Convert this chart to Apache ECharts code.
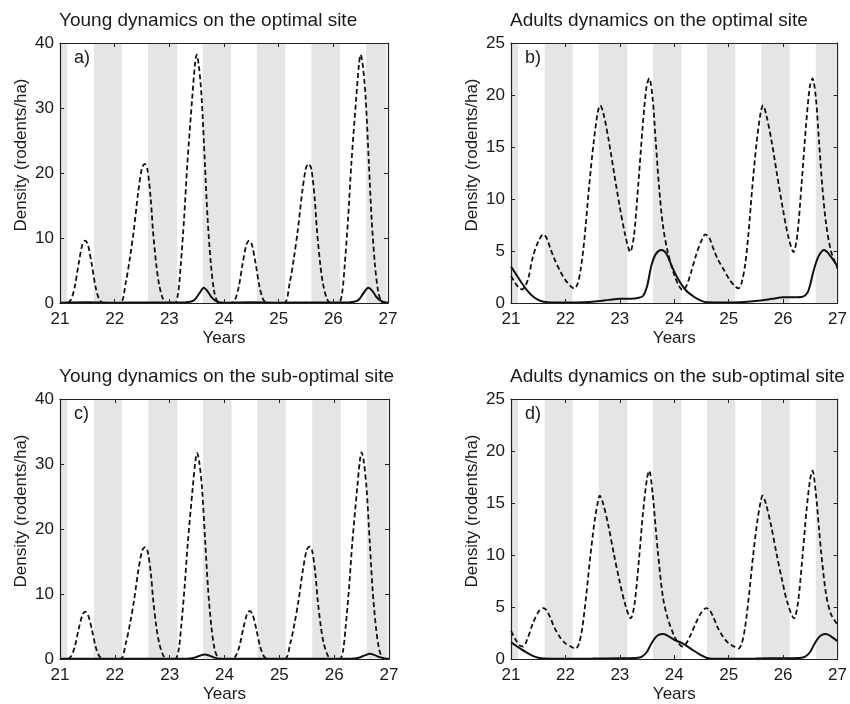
<!DOCTYPE html>
<html>
<head>
<meta charset="utf-8">
<title>Rodent dynamics</title>
<script src="https://cdn.jsdelivr.net/npm/echarts@6/dist/echarts.min.js"></script>
<style>
  html, body { margin: 0; padding: 0; background: #fff; }
</style>
</head>
<body>
<div id="main" style="width: 850px;height:704px;"></div>
<script type="text/javascript">
// grey seasons (years)
var bandStart = [21.0, 21.62, 22.61, 23.61, 24.6, 25.6, 26.6];
var bandEnd = [21.13, 22.13, 23.14, 24.13, 25.12, 26.12, 26.97];

var yearTicks = [21, 22, 23, 24, 25, 26, 27];

// a) young, optimal site
var youngOptDashed = [
  [21.0,0],[21.12,0],[21.2,0.5],[21.27,2.5],[21.34,6],[21.41,9],[21.46,9.6],[21.51,9],[21.58,6],[21.65,2.5],[21.72,0.5],[21.8,0],
  [22.1,0],[22.2,3],[22.28,7],[22.35,11.2],[22.43,17],[22.5,20.8],[22.55,21.4],[22.6,20.5],[22.66,16],[22.7,11.2],[22.76,6],[22.81,3],[22.88,0.7],[22.95,0],
  [23.1,0],[23.16,1.5],[23.21,6],[23.27,13],[23.33,21.5],[23.42,31.7],[23.47,36.8],[23.5,38.2],[23.54,36.5],[23.59,31.7],[23.65,21.5],[23.7,13],[23.76,6],[23.82,1.8],[23.88,0.2],[23.95,0],
  [24.12,0],[24.2,0.5],[24.27,2.5],[24.34,6],[24.41,9],[24.46,9.6],[24.51,9],[24.58,6],[24.65,2.5],[24.72,0.5],[24.8,0],
  [25.1,0],[25.2,3],[25.28,7],[25.35,11.2],[25.43,17],[25.5,20.8],[25.55,21.4],[25.6,20.5],[25.66,16],[25.7,11.2],[25.76,6],[25.81,3],[25.88,0.7],[25.95,0],
  [26.1,0],[26.16,1.5],[26.21,6],[26.27,13],[26.33,21.5],[26.42,31.7],[26.47,36.8],[26.5,38.2],[26.54,36.5],[26.59,31.7],[26.65,21.5],[26.7,13],[26.76,6],[26.82,1.8],[26.88,0.2],[26.95,0],[27,0]
];
var youngOptSolid = [
  [21,0.05],[21.5,0.1],[22,0.05],[22.6,0.08],[23.3,0.1],[23.45,0.4],[23.55,1.5],[23.63,2.35],[23.7,1.8],[23.78,0.8],[23.88,0.2],[24,0.05],
  [24.5,0.1],[25,0.05],[25.6,0.08],[26.3,0.1],[26.45,0.4],[26.55,1.5],[26.64,2.35],[26.72,1.8],[26.8,0.8],[26.9,0.2],[27,0.05]
];

// b) adults, optimal site
var adultOptDashed = [
  [21.0,2.6],[21.08,1.9],[21.15,1.45],[21.2,1.3],[21.26,1.6],[21.32,2.4],[21.4,4.4],[21.5,5.9],[21.59,6.6],[21.65,6.3],[21.72,5.3],[21.8,4.2],[21.9,3.1],[22.0,2.2],[22.1,1.6],[22.16,1.4],
  [22.22,1.8],[22.28,3.2],[22.35,6.2],[22.43,10.9],[22.52,15.5],[22.6,18.5],[22.64,19.0],[22.7,18.2],[22.8,15.5],[22.9,12.3],[23.0,9.2],[23.1,6.5],[23.19,4.9],
  [23.26,6.5],[23.34,11.5],[23.42,17],[23.49,20.8],[23.54,21.6],[23.6,19.8],[23.66,15.5],[23.72,11.2],[23.79,7.5],[23.88,4.9],[24.0,2.7],[24.08,1.7],[24.15,1.25],
  [24.22,1.6],[24.3,2.8],[24.4,4.6],[24.5,6.0],[24.57,6.6],[24.64,6.3],[24.72,5.2],[24.8,4.2],[24.91,3.2],[25.02,2.2],[25.12,1.6],[25.18,1.4],
  [25.24,2.0],[25.3,3.6],[25.36,6.5],[25.43,10.9],[25.51,15.3],[25.59,18.4],[25.63,19.0],[25.69,18.1],[25.79,15.5],[25.89,12.3],[25.99,9.2],[26.09,6.5],[26.19,4.9],
  [26.26,6.5],[26.34,11.5],[26.42,17],[26.49,20.8],[26.54,21.6],[26.6,19.8],[26.66,15.5],[26.72,11.2],[26.79,7.6],[26.88,5.0],[27.0,3.3]
];
var adultOptSolid = [
  [21.0,3.5],[21.1,2.7],[21.2,1.9],[21.3,1.2],[21.4,0.65],[21.5,0.3],[21.6,0.12],[21.75,0.05],[22.2,0.05],[22.5,0.12],[22.8,0.3],[23.0,0.42],[23.2,0.4],[23.35,0.5],
  [23.43,0.7],[23.5,1.6],[23.58,3.6],[23.66,4.7],[23.76,5.1],[23.85,4.8],[23.95,3.6],[24.06,2.4],[24.2,1.3],[24.36,0.6],[24.5,0.2],[24.6,0.07],
  [25.0,0.05],[25.5,0.2],[25.8,0.4],[26.0,0.55],[26.2,0.55],[26.36,0.6],[26.45,1.0],[26.5,1.8],[26.54,2.7],[26.6,3.8],[26.66,4.6],[26.75,5.1],[26.81,4.9],[26.87,4.5],[26.94,4.0],[27.0,3.5]
];

// c) young, sub-optimal site
var youngSubDashed = [
  [21.0,0],[21.12,0],[21.2,0.4],[21.27,1.9],[21.34,4.6],[21.41,6.8],[21.46,7.3],[21.51,6.8],[21.58,4.6],[21.65,1.9],[21.72,0.4],[21.8,0],
  [22.1,0],[22.2,2.4],[22.28,5.6],[22.35,9],[22.43,13.7],[22.5,16.7],[22.55,17.2],[22.6,16.5],[22.66,12.9],[22.7,9],[22.76,4.8],[22.81,2.4],[22.88,0.6],[22.95,0],
  [23.1,0],[23.16,1.2],[23.21,5],[23.27,10.8],[23.33,17.8],[23.42,26.3],[23.47,30.5],[23.5,31.7],[23.54,30.3],[23.59,26.3],[23.65,17.8],[23.7,10.8],[23.76,5],[23.82,1.5],[23.88,0.2],[23.95,0],
  [24.12,0],[24.2,0.4],[24.27,1.9],[24.34,4.6],[24.41,6.9],[24.46,7.4],[24.51,6.9],[24.58,4.6],[24.65,1.9],[24.72,0.4],[24.8,0],
  [25.1,0],[25.2,2.4],[25.28,5.6],[25.35,9],[25.43,13.7],[25.5,16.8],[25.55,17.3],[25.6,16.6],[25.66,12.9],[25.7,9],[25.76,4.8],[25.81,2.4],[25.88,0.6],[25.95,0],
  [26.1,0],[26.16,1.2],[26.21,5],[26.27,10.8],[26.33,17.8],[26.42,26.3],[26.47,30.6],[26.5,31.8],[26.54,30.4],[26.59,26.3],[26.65,17.8],[26.7,10.8],[26.76,5],[26.82,1.5],[26.88,0.2],[26.95,0],[27,0]
];
var youngSubSolid = [
  [21,0.02],[22,0.02],[23.3,0.05],[23.45,0.2],[23.55,0.5],[23.63,0.7],[23.72,0.55],[23.8,0.25],[23.9,0.05],[24,0.02],
  [25,0.02],[26.3,0.05],[26.45,0.2],[26.56,0.55],[26.65,0.8],[26.74,0.6],[26.82,0.3],[26.92,0.08],[27,0.02]
];

// d) adults, sub-optimal site
var adultSubDashed = [
  [21.0,2.7],[21.08,1.9],[21.15,1.35],[21.22,1.2],[21.3,1.9],[21.4,3.4],[21.5,4.5],[21.59,4.9],[21.65,4.7],[21.72,4.0],[21.8,3.0],[21.9,2.1],[22.0,1.5],[22.1,1.2],[22.19,1.0],
  [22.25,1.5],[22.31,3.0],[22.38,6.0],[22.46,10.0],[22.54,13.4],[22.6,15.2],[22.63,15.7],[22.69,15.0],[22.79,12.8],[22.89,10.1],[22.99,7.6],[23.09,5.4],[23.2,3.9],
  [23.27,5.3],[23.35,9.5],[23.43,14.3],[23.5,17.4],[23.54,18.1],[23.6,16.0],[23.66,12.5],[23.7,10.2],[23.79,6.0],[23.88,3.9],[24.0,2.2],[24.08,1.5],[24.15,1.2],
  [24.22,1.5],[24.3,2.3],[24.4,3.5],[24.5,4.5],[24.59,4.9],[24.65,4.7],[24.72,4.0],[24.8,3.0],[24.9,2.1],[25.0,1.5],[25.1,1.2],[25.18,1.0],
  [25.24,1.5],[25.3,3.0],[25.37,6.0],[25.45,10.0],[25.53,13.4],[25.59,15.2],[25.62,15.7],[25.68,15.0],[25.78,12.8],[25.88,10.1],[25.98,7.6],[26.08,5.4],[26.2,3.9],
  [26.27,5.3],[26.35,9.5],[26.43,14.3],[26.5,17.4],[26.54,18.1],[26.6,16.0],[26.66,12.5],[26.7,10.2],[26.79,6.2],[26.88,4.3],[27.0,3.3]
];
var adultSubSolid = [
  [21.0,1.6],[21.1,1.25],[21.2,0.9],[21.3,0.6],[21.4,0.3],[21.5,0.12],[21.6,0.04],[22.0,0.02],[22.5,0.04],[23.0,0.08],[23.3,0.1],
  [23.4,0.2],[23.5,0.7],[23.58,1.5],[23.66,2.1],[23.72,2.35],[23.79,2.4],[23.86,2.3],[24.0,1.85],[24.15,1.5],[24.3,1.0],[24.45,0.5],[24.6,0.1],[24.7,0.02],
  [25.5,0.05],[26.0,0.08],[26.3,0.1],[26.4,0.2],[26.5,0.7],[26.58,1.5],[26.66,2.1],[26.72,2.35],[26.78,2.4],[26.86,2.25],[27.0,1.7]
];

var FONT = "'Liberation Sans', Arial, Helvetica, sans-serif";
var INK = '#1a1a1a';

var panels = [
  { title: 'Young dynamics on the optimal site', tag: 'a)', left: 60, top: 43, width: 328, ymax: 40, step: 10, dashed: youngOptDashed, solid: youngOptSolid },
  { title: 'Adults dynamics on the optimal site', tag: 'b)', left: 511, top: 43, width: 331, ymax: 25, step: 5, dashed: adultOptDashed, solid: adultOptSolid },
  { title: 'Young dynamics on the sub-optimal site', tag: 'c)', left: 60, top: 399, width: 329, ymax: 40, step: 10, dashed: youngSubDashed, solid: youngSubSolid },
  { title: 'Adults dynamics on the sub-optimal site', tag: 'd)', left: 511, top: 399, width: 331, ymax: 25, step: 5, dashed: adultSubDashed, solid: adultSubSolid }
];
var H = 260;

var bands = bandStart.map(function(s, i) { return [{ xAxis: s }, { xAxis: bandEnd[i] }]; });

var grid = [], xAxis = [], yAxis = [], series = [], title = [], graphic = [];
var frameLine = { show: true, onZero: false, lineStyle: { color: '#222', width: 1.2 } };
var tick = { inside: true, length: 4, lineStyle: { color: '#222' } };

panels.forEach(function(p, i) {
  grid.push({ left: p.left, top: p.top, width: p.width, height: H, containLabel: false });
  // bottom x axis
  xAxis.push({
    type: 'value', gridIndex: i, min: 21, max: 27, interval: 1, z: 10,
    name: 'Years', nameLocation: 'middle', nameGap: 27,
    nameTextStyle: { fontFamily: FONT, fontSize: 17, color: INK },
    axisLine: frameLine, splitLine: { show: false }, axisTick: tick,
    axisLabel: { fontFamily: FONT, fontSize: 17, color: INK, margin: 8 }
  });
  // top x axis (frame + ticks only)
  xAxis.push({
    type: 'value', gridIndex: i, position: 'top', min: 21, max: 27, interval: 1, z: 10,
    axisLine: frameLine, splitLine: { show: false }, axisTick: tick,
    axisLabel: { show: false }
  });
  yAxis.push({
    type: 'value', gridIndex: i, min: 0, max: p.ymax, interval: p.step, z: 10,
    axisLine: frameLine, splitLine: { show: false }, axisTick: tick,
    axisLabel: { fontFamily: FONT, fontSize: 17, color: INK, margin: 6 }
  });
  yAxis.push({
    type: 'value', gridIndex: i, position: 'right', min: 0, max: p.ymax, interval: p.step, z: 10,
    axisLine: frameLine, splitLine: { show: false }, axisTick: tick,
    axisLabel: { show: false }
  });

  // grey bands
  series.push({
    type: 'line', xAxisIndex: 2 * i, yAxisIndex: 2 * i, data: [], z: 1, silent: true,
    markArea: { silent: true, itemStyle: { color: '#e5e5e5' }, data: bands }
  });
  series.push({
    type: 'line', xAxisIndex: 2 * i, yAxisIndex: 2 * i, data: p.dashed, z: 3,
    smooth: 0.3, symbol: 'none', silent: true, clip: true,
    lineStyle: { color: '#111', width: 1.8, type: [5, 3] }
  });
  series.push({
    type: 'line', xAxisIndex: 2 * i, yAxisIndex: 2 * i, data: p.solid, z: 4,
    smooth: 0.3, symbol: 'none', silent: true, clip: true,
    lineStyle: { color: '#111', width: 2 }
  });

  title.push({
    text: p.title, left: p.left - 1, top: p.top - 32, padding: 0,
    textStyle: { fontFamily: FONT, fontSize: 19, fontWeight: 'normal', color: INK }
  });
  graphic.push({
    type: 'text', x: p.left - 39, y: p.top + 112, rotation: Math.PI / 2, z: 10,
    style: { text: 'Density (rodents/ha)', font: '17px ' + FONT, fill: INK, textAlign: 'center', textVerticalAlign: 'middle' }
  });
  graphic.push({
    type: 'text', x: p.left + 14, y: p.top + 6, z: 10,
    style: { text: p.tag, font: '18px ' + FONT, fill: INK }
  });
});

var myChart = echarts.init(document.getElementById('main'));
myChart.setOption({
  animation: false,
  backgroundColor: '#fff',
  title: title,
  grid: grid,
  xAxis: xAxis,
  yAxis: yAxis,
  series: series,
  graphic: graphic
});
</script>
</body>
</html>
